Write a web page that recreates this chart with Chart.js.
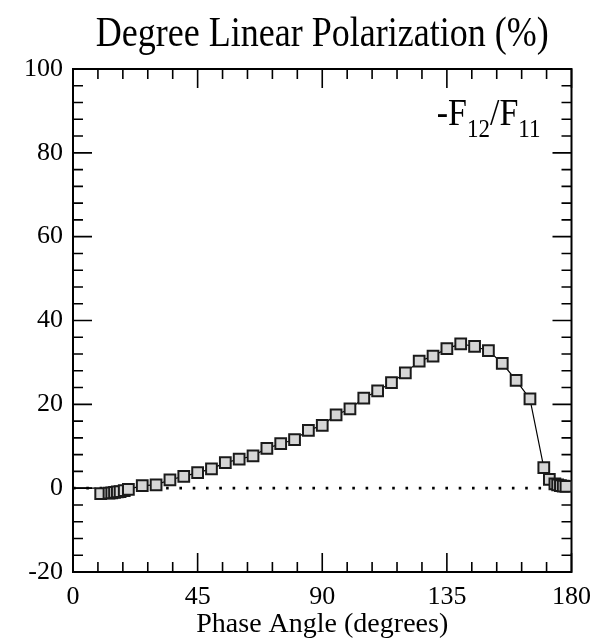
<!DOCTYPE html>
<html>
<head>
<meta charset="utf-8">
<script src="https://cdn.jsdelivr.net/npm/chart.js@4/dist/chart.umd.min.js"></script>
<style>
  html, body { margin: 0; padding: 0; background: #fff; }
  canvas { display: block; }
</style>
</head>
<body>
<canvas id="polarChart" width="601" height="642"></canvas>
<script>
// Grau de polarização linear vs ângulo de fase
const phaseAngle = [0, 8, 10, 13, 14, 15, 16, 17, 18.5, 20, 25, 30, 35, 40, 45, 50, 55, 60, 65,
    70, 75, 80, 85, 90, 95, 100, 105, 110, 115, 120, 125, 130, 135, 140, 145, 150, 155,
    160, 165, 170, 172, 174, 175, 176, 177, 178];
const polarization = [0, 0, -1.3, -1.2, -1.1, -1.0, -0.9, -0.8, -0.6, -0.3, 0.6, 0.8, 2.0, 2.8, 3.7, 4.6, 6.1, 6.9, 7.7,
    9.5, 10.6, 11.6, 13.8, 15.0, 17.5, 18.9, 21.5, 23.2, 25.2, 27.5, 30.3, 31.5, 33.3, 34.4, 33.8, 32.8, 29.8,
    25.7, 21.3, 4.9, 2.1, 1.0, 0.8, 0.6, 0.5, 0.4];
const hiddenPoints = 2; // os dois primeiros pontos só aparecem na linha

// linha pontilhada do zero
const zeroLineX = [0, 180];
const zeroLineY = [0, 0];

const xTicks = [0, 45, 90, 135, 180];
const yTicks = [-20, 0, 20, 40, 60, 80, 100];

const chartTitle = 'Degree Linear Polarization (%)';
const serif = "'Liberation Serif', 'Times New Roman', serif";

// moldura com marcas para dentro (estilo xmgrace)
const frameTicks = {
    id: 'frameTicks',
    beforeDatasetsDraw(chart) {
        const { ctx, chartArea: a, scales } = chart;
        ctx.save();
        ctx.strokeStyle = '#000';
        ctx.lineWidth = 2;
        ctx.strokeRect(a.left, a.top, a.right - a.left, a.bottom - a.top);
        ctx.lineWidth = 1.6;
        ctx.beginPath();
        for (let v = 0; v <= 180; v += 9) {
            const x = scales.x.getPixelForValue(v);
            const len = xTicks.includes(v) ? 19 : 10;
            ctx.moveTo(x, a.bottom); ctx.lineTo(x, a.bottom - len);
            ctx.moveTo(x, a.top); ctx.lineTo(x, a.top + len);
        }
        for (let v = -20; v <= 100; v += 4) {
            const y = scales.y.getPixelForValue(v);
            const len = yTicks.includes(v) ? 19 : 10;
            ctx.moveTo(a.left, y); ctx.lineTo(a.left + len, y);
            ctx.moveTo(a.right, y); ctx.lineTo(a.right - len, y);
        }
        ctx.stroke();
        ctx.restore();
    },
    afterDraw(chart) {
        const { ctx, chartArea: a } = chart;
        ctx.save();
        ctx.fillStyle = '#000';
        ctx.textBaseline = 'alphabetic';

        // título centrado sobre a área do gráfico (letras um pouco esticadas na vertical)
        ctx.save();
        ctx.font = '36px ' + serif;
        ctx.textAlign = 'center';
        ctx.translate((a.left + a.right) / 2, 46);
        ctx.scale(1, 1.18);
        ctx.fillText(chartTitle, 0, 0);
        ctx.restore();

        // rótulo -F12/F11
        const big = '34px ' + serif, small = '23px ' + serif;
        const parts = [['-F', big, 0], ['12', small, 12], ['/F', big, 0], ['11', small, 12]];
        let total = 0;
        parts.forEach(p => { ctx.font = p[1]; total += ctx.measureText(p[0]).width; });
        let x = a.right - 31 - total;
        const base = a.top + 56;
        parts.forEach(p => {
            ctx.font = p[1];
            ctx.save();
            ctx.translate(x, base + p[2]);
            ctx.scale(1, 1.12);
            ctx.fillText(p[0], 0, 0);
            ctx.restore();
            x += ctx.measureText(p[0]).width;
        });
        ctx.restore();
    }
};

const ctx = document.getElementById('polarChart').getContext('2d');
new Chart(ctx, {
    type: 'scatter',
    data: {
        datasets: [{
            label: '-F12/F11',
            data: phaseAngle.map((x, i) => ({ x: x, y: polarization[i] })),
            showLine: true,
            borderColor: '#000',
            borderWidth: 1.2,
            pointStyle: 'rect',
            pointRadius: c => c.dataIndex < hiddenPoints ? 0 : 7.6,
            pointBackgroundColor: '#d6d6d6',
            pointBorderColor: '#1a1a1a',
            pointBorderWidth: 2,
            order: 1
        }, {
            label: 'zero',
            data: zeroLineX.map((x, i) => ({ x: x, y: zeroLineY[i] })),
            showLine: true,
            borderColor: '#000',
            borderWidth: 2.6,
            borderDash: [2.6, 10.7],
            pointRadius: 0,
            order: 2
        }]
    },
    options: {
        responsive: false,
        animation: false,
        layout: { padding: { left: 0, right: 28, top: 69, bottom: 0 } },
        plugins: {
            legend: { display: false },
            tooltip: { enabled: false },
            title: { display: false }
        },
        scales: {
            x: {
                type: 'linear',
                min: 0, max: 180,
                afterFit: s => { s.height = 70; },
                afterBuildTicks: s => { s.ticks = xTicks.map(v => ({ value: v })); },
                grid: { display: false, drawTicks: false },
                border: { display: false },
                ticks: { color: '#000', font: { family: serif, size: 26 }, padding: 10, maxRotation: 0 },
                title: {
                    display: true,
                    text: 'Phase Angle (degrees)',
                    color: '#000',
                    font: { family: serif, size: 28 },
                    padding: { top: 0, bottom: 1 }
                }
            },
            y: {
                type: 'linear',
                min: -20, max: 100,
                afterFit: s => { s.width = 73; },
                afterBuildTicks: s => { s.ticks = yTicks.map(v => ({ value: v })); },
                grid: { display: false, drawTicks: false },
                border: { display: false },
                ticks: { color: '#000', font: { family: serif, size: 26 }, padding: 10 }
            }
        }
    },
    plugins: [frameTicks]
});
</script>
</body>
</html>
